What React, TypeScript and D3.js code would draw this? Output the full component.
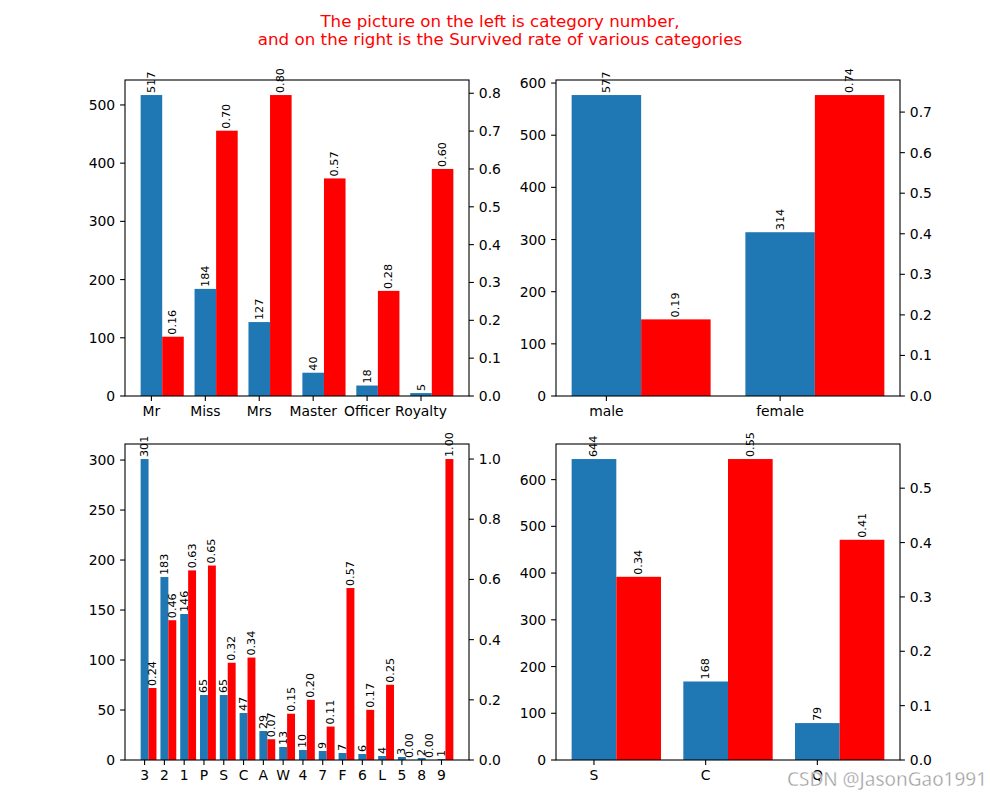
import React from 'react';
import * as d3 from 'd3';

// ---------- data ----------
const titleCats = ['Mr', 'Miss', 'Mrs', 'Master', 'Officer', 'Royalty'];
const titleCounts = [517, 184, 127, 40, 18, 5];
const titleRates = [0.1567, 0.7011, 0.7953, 0.575, 0.2778, 0.6];

const sexCats = ['male', 'female'];
const sexCounts = [577, 314];
const sexRates = [0.1889, 0.742];

const ticketCats = ['3', '2', '1', 'P', 'S', 'C', 'A', 'W', '4', '7', 'F', '6', 'L', '5', '8', '9'];
const ticketCounts = [301, 183, 146, 65, 65, 47, 29, 13, 10, 9, 7, 6, 4, 3, 2, 1];
const ticketRates = [0.2392, 0.4645, 0.6301, 0.6462, 0.3231, 0.3404, 0.069, 0.1538, 0.2, 0.1111, 0.5714, 0.1667, 0.25, 0, 0, 1];

const embarkCats = ['S', 'C', 'Q'];
const embarkCounts = [644, 168, 79];
const embarkRates = [0.337, 0.5536, 0.4051];

const titleLeftTicks = [0, 100, 200, 300, 400, 500];
const titleRightTicks = [0, 0.1, 0.2, 0.3, 0.4, 0.5, 0.6, 0.7, 0.8];
const sexLeftTicks = [0, 100, 200, 300, 400, 500, 600];
const sexRightTicks = [0, 0.1, 0.2, 0.3, 0.4, 0.5, 0.6, 0.7];
const ticketLeftTicks = [0, 50, 100, 150, 200, 250, 300];
const ticketRightTicks = [0, 0.2, 0.4, 0.6, 0.8, 1.0];
const embarkLeftTicks = [0, 100, 200, 300, 400, 500, 600];
const embarkRightTicks = [0, 0.1, 0.2, 0.3, 0.4, 0.5];

const titleLines = [
  'The picture on the left is category number,',
  'and on the right is the Survived rate of various categories',
];

const BLUE = '#1f77b4';
const RED = '#ff0000';
const FONT = 'DejaVu Sans, sans-serif';
const PANEL_W = 344;
const PANEL_H = 316;

type PanelProps = {
  x0: number;
  y0: number;
  cats: string[];
  counts: number[];
  rates: number[];
  leftTicks: number[];
  rightTicks: number[];
  rightDigits: number;
};

function Panel({ x0, y0, cats, counts, rates, leftTicks, rightTicks, rightDigits }: PanelProps) {
  const n = cats.length;
  const bw = 0.4;
  const lo = -bw / 2;
  const hi = n - 1 + bw * 1.5;
  const m = (hi - lo) * 0.05;
  const x = d3.scaleLinear().domain([lo - m, hi + m]).range([x0, x0 + PANEL_W]);
  const yL = d3.scaleLinear().domain([0, (d3.max(counts) as number) * 1.05]).range([y0 + PANEL_H, y0]);
  const yR = d3.scaleLinear().domain([0, (d3.max(rates) as number) * 1.05]).range([y0 + PANEL_H, y0]);
  const bottom = y0 + PANEL_H;
  const tickLen = 4.9;
  const lab = 11.2;
  const gap = 2;
  return (
    <g>
      {counts.map((v, i) => (
        <rect key={'b' + i} x={x(i - bw / 2)} y={yL(v)} width={x(i + bw / 2) - x(i - bw / 2)} height={bottom - yL(v)} fill={BLUE} />
      ))}
      {counts.map((v, i) => (
        <text key={'bl' + i} transform={`translate(${x(i)},${yL(v) - gap}) rotate(-90)`} fontSize={lab} fontFamily={FONT} dominantBaseline="central" textAnchor="start">
          {d3.format('d')(v)}
        </text>
      ))}
      {rates.map((v, i) => (
        <rect key={'r' + i} x={x(i + bw / 2)} y={yR(v)} width={x(i + bw * 1.5) - x(i + bw / 2)} height={bottom - yR(v)} fill={RED} />
      ))}
      {rates.map((v, i) => (
        <text key={'rl' + i} transform={`translate(${x(i + bw)},${yR(v) - gap}) rotate(-90)`} fontSize={lab} fontFamily={FONT} dominantBaseline="central" textAnchor="start">
          {v.toFixed(2)}
        </text>
      ))}
      <rect x={x0} y={y0} width={PANEL_W} height={PANEL_H} fill="none" stroke="#000" strokeWidth={1.1} />
      {leftTicks.map((t) => (
        <g key={'lt' + t}>
          <line x1={x0 - tickLen} x2={x0} y1={yL(t)} y2={yL(t)} stroke="#000" strokeWidth={1.1} />
          <text x={x0 - tickLen - 4.9} y={yL(t)} textAnchor="end" dominantBaseline="central" fontSize={13.9} fontFamily={FONT}>
            {d3.format('d')(t)}
          </text>
        </g>
      ))}
      {rightTicks.map((t) => (
        <g key={'rt' + t}>
          <line x1={x0 + PANEL_W} x2={x0 + PANEL_W + tickLen} y1={yR(t)} y2={yR(t)} stroke="#000" strokeWidth={1.1} />
          <text x={x0 + PANEL_W + tickLen + 4.9} y={yR(t)} textAnchor="start" dominantBaseline="central" fontSize={13.9} fontFamily={FONT}>
            {t.toFixed(rightDigits)}
          </text>
        </g>
      ))}
      {cats.map((c, i) => (
        <g key={'xt' + i}>
          <line x1={x(i)} x2={x(i)} y1={bottom} y2={bottom + tickLen} stroke="#000" strokeWidth={1.1} />
          <text x={x(i)} y={bottom + tickLen + 4.9} dy="0.76em" textAnchor="middle" fontSize={13.9} fontFamily={FONT}>
            {c}
          </text>
        </g>
      ))}
    </g>
  );
}

export default function App() {
  return (
    <svg width={1000} height={800} style={{ position: 'absolute', left: 0, top: 0, background: '#fff' }}>
      <rect x={0} y={0} width={1000} height={800} fill="#fff" />
      {titleLines.map((t, i) => (
        <text key={i} x={500} y={27 + i * 18} textAnchor="middle" fill={RED} fontSize={16.7} fontFamily={FONT}>
          {t}
        </text>
      ))}
      <Panel x0={125} y0={80} cats={titleCats} counts={titleCounts} rates={titleRates} leftTicks={titleLeftTicks} rightTicks={titleRightTicks} rightDigits={1} />
      <Panel x0={556} y0={80} cats={sexCats} counts={sexCounts} rates={sexRates} leftTicks={sexLeftTicks} rightTicks={sexRightTicks} rightDigits={1} />
      <Panel x0={125} y0={444} cats={ticketCats} counts={ticketCounts} rates={ticketRates} leftTicks={ticketLeftTicks} rightTicks={ticketRightTicks} rightDigits={1} />
      <Panel x0={556} y0={444} cats={embarkCats} counts={embarkCounts} rates={embarkRates} leftTicks={embarkLeftTicks} rightTicks={embarkRightTicks} rightDigits={1} />
      <text x={787} y={786} fontSize={20} fontFamily="Noto Sans, sans-serif" fill="#999" stroke="#fff" strokeWidth={0.4} textLength={200} lengthAdjust="spacingAndGlyphs">
        CSDN @JasonGao1991
      </text>
    </svg>
  );
}
